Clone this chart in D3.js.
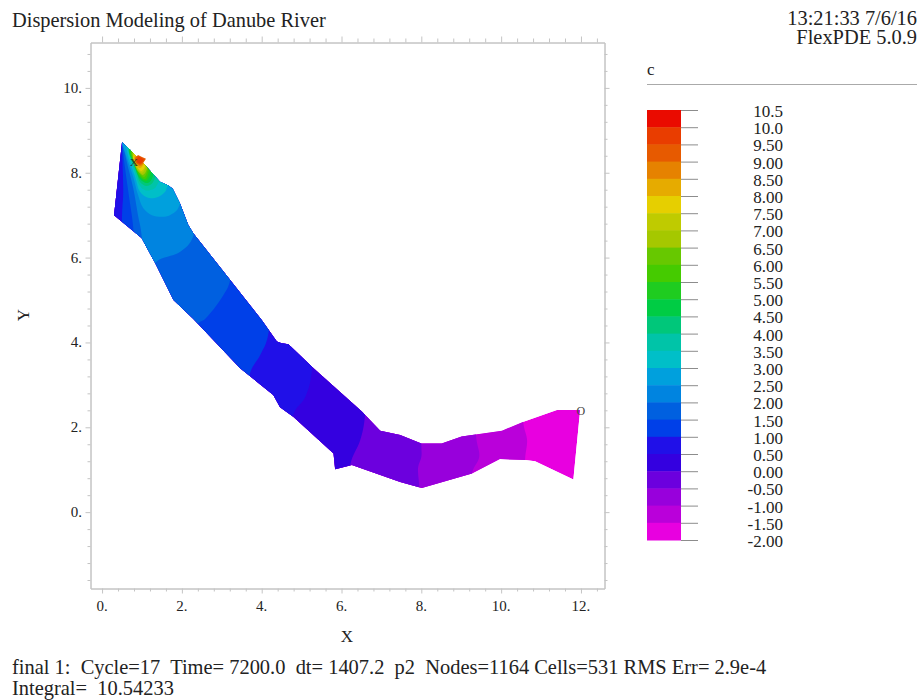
<!DOCTYPE html>
<html>
<head>
<meta charset="utf-8">
<script src="https://cdn.jsdelivr.net/npm/d3@7"></script>
<style>
  body { margin: 0; background: #fff; }
  svg { display: block; }
  text { font-family: "Liberation Serif", serif; fill: #222; white-space: pre; }
  .axis path, .axis line { stroke: #c4c4c4; }
  .legend-axis line { stroke: #8c8c8c; }
  .legend-axis path { display: none; }
</style>
</head>
<body>
<div id="chart"></div>
<script>
const xMajor = [0, 2, 4, 6, 8, 10, 12];
const yMajor = [0, 2, 4, 6, 8, 10];
const xMinor = [0.4, 0.8, 1.2, 1.6, 2.4, 2.8, 3.2, 3.6, 4.4, 4.8, 5.2, 5.6, 6.4, 6.8, 7.2, 7.6, 8.4, 8.8, 9.2, 9.6, 10.4, 10.8, 11.2, 11.6, 12.4];
const yMinor = [-1.6, -1.2, -0.8, -0.4, 0.4, 0.8, 1.2, 1.6, 2.4, 2.8, 3.2, 3.6, 4.4, 4.8, 5.2, 5.6, 6.4, 6.8, 7.2, 7.6, 8.4, 8.8, 9.2, 9.6, 10.4, 10.8];

// legend, top to bottom
const legendLabels = ["10.5", "10.0", "9.50", "9.00", "8.50", "8.00", "7.50", "7.00", "6.50", "6.00", "5.50", "5.00", "4.50", "4.00", "3.50", "3.00", "2.50", "2.00", "1.50", "1.00", "0.50", "0.00", "-0.50", "-1.00", "-1.50", "-2.00"];
const bandColors = ["#ea0b00", "#e93d00", "#e75a00", "#e68200", "#e6ab00", "#e6cf00", "#bfcb00", "#a5c800", "#67c800", "#45cb00", "#1fcc20", "#00cc44", "#00c77a", "#00c4a8", "#00bfc8", "#00a0dd", "#0084e0", "#0060e0", "#0040e8", "#2010e8", "#3400e0", "#6c00de", "#9800dc", "#ba00da", "#e800e0"];

// river outline, in X/Y units
const riverBank = [[0.50, 8.72], [0.70, 8.54], [1.04, 8.22], [1.45, 7.79], [1.66, 7.70], [1.77, 7.62], [1.95, 7.28], [2.16, 6.77], [2.29, 6.57], [3.21, 5.47], [4.00, 4.53], [4.38, 4.02], [4.50, 3.98], [4.67, 3.96], [5.30, 3.39], [6.51, 2.37], [6.97, 1.92], [7.47, 1.82], [8.00, 1.62], [8.51, 1.62], [9.01, 1.78], [10.02, 1.92], [10.56, 2.13], [11.40, 2.41], [11.98, 2.41], [11.81, 0.77], [10.85, 1.20], [10.60, 1.23], [9.97, 1.25], [9.27, 0.91], [8.01, 0.57], [7.47, 0.71], [6.26, 1.11], [5.84, 1.01], [5.80, 1.38], [4.79, 2.25], [4.46, 2.47], [4.29, 2.76], [3.46, 3.39], [2.29, 4.55], [1.79, 5.00], [1.33, 5.87], [0.99, 6.46], [0.30, 7.00]];

// regions where c is above each level, drawn low to high
const levels = [-1.5, -1, -0.5, 0, 0.5, 1, 1.5, 2, 2.5, 3, 3.5, 4, 4.5, 5, 5.5, 6, 6.5, 7, 7.5, 8, 8.5];
const regions = [
  [[10.55, 2.15], [10.65, 1.70], [10.60, 1.23], [10.60, -1], [0, -1], [0, 10], [10.55, 10]],
  [[9.37, 1.82], [9.45, 1.30], [9.27, 0.92], [9.27, -1], [0, -1], [0, 10], [9.37, 10]],
  [[8.00, 1.63], [8.00, 1.30], [7.92, 1.06], [7.95, 0.57], [7.95, -1], [0, -1], [0, 10], [8.00, 10]],
  [[6.59, 2.29], [6.47, 1.70], [6.22, 1.11], [6.22, -1], [0, -1], [0, 10], [6.59, 10]],
  [[5.26, 3.35], [5.09, 2.71], [4.79, 2.29], [4.79, -1], [0, -1], [0, 10], [5.26, 10]],
  [[4.16, 4.17], [3.96, 3.70], [3.71, 3.28], [3.71, 1.93], [0.50, 1.93], [0.50, 6.96], [0.53, 7.55], [0.50, 8.66], [0.50, 9.01], [4.16, 9.01]],
  [[3.21, 5.47], [3.01, 5.07], [2.58, 4.55], [2.38, 4.41], [2.38, 1.93], [0.78, 1.93], [0.78, 6.42], [0.78, 6.72], [0.68, 7.41], [0.55, 8.30], [0.50, 8.77], [0.50, 9.01], [3.21, 9.01]],
  [[2.28, 6.49], [1.95, 6.13], [1.33, 5.87], [1.33, 5.00], [0.99, 5.00], [0.99, 6.53], [0.90, 7.00], [0.78, 7.64], [0.58, 8.42], [0.50, 8.89], [2.28, 8.89]],
  [[1.98, 7.29], [1.88, 7.12], [1.70, 7.00], [1.50, 6.96], [1.25, 7.00], [1.03, 7.17], [0.90, 7.48], [0.78, 7.90], [0.58, 8.47], [0.50, 8.77], [0.50, 9.01], [2.08, 9.01], [2.08, 7.29]],
  [[1.65, 7.69], [1.58, 7.55], [1.40, 7.43], [1.15, 7.41], [0.95, 7.55], [0.83, 7.90], [0.63, 8.47], [0.58, 8.84], [0.53, 9.01], [1.83, 9.01], [1.83, 7.69]],
  [[1.45, 7.81], [1.33, 7.64], [1.20, 7.59], [1.08, 7.59], [0.95, 7.69], [0.80, 8.07], [0.65, 8.54], [0.58, 8.80], [1.58, 9.01], [1.58, 7.81]],
  [[1.33, 7.90], [1.22, 7.72], [1.10, 7.69], [0.95, 7.78], [0.83, 8.18], [0.68, 8.58], [1.33, 9.01]],
  [[1.28, 7.95], [1.20, 7.79], [1.10, 7.76], [0.95, 7.85], [0.80, 8.18], [0.68, 8.58], [1.28, 9.01]],
  [[1.23, 8.02], [1.10, 7.81], [0.95, 7.90], [0.80, 8.23], [0.70, 8.58], [1.23, 8.89]],
  [[1.18, 8.07], [1.08, 7.85], [0.93, 7.95], [0.79, 8.28], [0.73, 8.54], [1.18, 8.89]],
  [[1.15, 8.09], [1.05, 7.90], [0.93, 8.00], [0.78, 8.30], [0.75, 8.54], [1.15, 8.77]],
  [[1.13, 8.11], [1.03, 7.95], [0.90, 8.04], [0.78, 8.33], [0.78, 8.54], [1.13, 8.66]],
  [[1.10, 8.14], [1.00, 8.00], [0.90, 8.09], [0.78, 8.35], [0.80, 8.49], [1.10, 8.58]],
  [[1.08, 8.16], [0.98, 8.04], [0.88, 8.14], [0.78, 8.35], [0.85, 8.49], [1.08, 8.50]],
  [[1.05, 8.23], [0.95, 8.11], [0.85, 8.18], [0.80, 8.35], [0.90, 8.49]],
  [[1.05, 8.25], [0.95, 8.16], [0.85, 8.23], [0.83, 8.35], [0.95, 8.49]]
];

// hot spot at the source, sticks out past the bank
const hotLevels = [9, 9.5];
const hotRegions = [
  [[0.83, 8.35], [0.90, 8.42], [1.00, 8.37], [1.10, 8.33], [1.03, 8.23], [0.95, 8.18], [0.85, 8.23]],
  [[0.87, 8.33], [0.92, 8.38], [1.00, 8.34], [1.05, 8.31], [1.00, 8.25], [0.95, 8.21], [0.88, 8.25]]
];

const maxMark = [0.80, 8.15];
const minMark = [12.0, 2.28];

class RiverPlot {

  constructor(parentElement) {
    this.parentElement = parentElement;
    this.initVis();
  }

  initVis() {
    let vis = this;

    vis.svg = d3.select("#" + vis.parentElement)
      .append("svg")
      .attr("width", 917)
      .attr("height", 700);

    vis.x = d3.scaleLinear().domain([-0.29, 12.59]).range([90.5, 604.5]);
    vis.y = d3.scaleLinear().domain([-1.8, 11.07]).range([588.5, 42.5]);
    vis.legendY = d3.scaleLinear().domain([-2, 10.5]).range([540, 110]);

    vis.drawAxes();
    vis.drawRiver();
    vis.drawLegend();
    vis.drawText();
  }

  drawAxes() {
    let vis = this;

    const axisGroup = (axis, dx, dy) => vis.svg.append("g")
      .attr("class", "axis")
      .attr("transform", "translate(" + dx + "," + dy + ")")
      .call(axis);

    // frame plus short minor ticks on all four sides, then the longer major ones
    const makeAxes = (xVals, yVals, size) => {
      axisGroup(d3.axisBottom(vis.x).tickValues(xVals).tickSize(size).tickSizeOuter(0).tickFormat(""), 0, 588.5);
      axisGroup(d3.axisTop(vis.x).tickValues(xVals).tickSize(size + 1).tickSizeOuter(0).tickFormat(""), 0, 42.5);
      axisGroup(d3.axisLeft(vis.y).tickValues(yVals).tickSize(size).tickSizeOuter(0).tickFormat(""), 90.5, 0);
      axisGroup(d3.axisRight(vis.y).tickValues(yVals).tickSize(size).tickSizeOuter(0).tickFormat(""), 604.5, 0);
    };
    makeAxes(xMinor, yMinor, 3);
    makeAxes(xMajor, yMajor, 5);

    vis.svg.selectAll(".x-label")
      .data(xMajor)
      .enter()
      .append("text")
      .attr("class", "x-label")
      .attr("x", d => vis.x(d))
      .attr("y", 611)
      .attr("text-anchor", "middle")
      .attr("font-size", 15)
      .text(d => d + ".");

    vis.svg.selectAll(".y-label")
      .data(yMajor)
      .enter()
      .append("text")
      .attr("class", "y-label")
      .attr("x", 82)
      .attr("y", d => vis.y(d) + 5)
      .attr("text-anchor", "end")
      .attr("font-size", 15)
      .text(d => d + ".");

    vis.svg.append("text")
      .attr("x", 347)
      .attr("y", 642)
      .attr("text-anchor", "middle")
      .attr("font-size", 17)
      .text("X");

    vis.svg.append("text")
      .attr("transform", "translate(29,315) rotate(-90)")
      .attr("text-anchor", "middle")
      .attr("font-size", 17)
      .text("Y");
  }

  drawRiver() {
    let vis = this;

    const line = d3.line()
      .x(d => vis.x(d[0]))
      .y(d => vis.y(d[1]))
      .curve(d3.curveLinearClosed);

    // contours are round in the picture, the bank is not
    const smooth = d3.line()
      .x(d => vis.x(d[0]))
      .y(d => vis.y(d[1]))
      .curve(d3.curveCatmullRomClosed.alpha(0.5));

    vis.svg.append("clipPath")
      .attr("id", "river-clip")
      .append("path")
      .attr("d", line(riverBank));

    const river = vis.svg.append("g").attr("clip-path", "url(#river-clip)");

    // lowest band covers the whole river, every region on top of it
    river.append("path")
      .attr("d", line(riverBank))
      .attr("fill", bandColors[bandColors.length - 1]);

    // band index for the part above a level
    const colorAbove = level => bandColors[legendLabels.findIndex(l => +l === level) - 1];

    river.selectAll(".region")
      .data(regions)
      .enter()
      .append("path")
      .attr("class", "region")
      .attr("d", d => smooth(d))
      .attr("fill", (d, i) => colorAbove(levels[i]));

    vis.svg.selectAll(".hot")
      .data(hotRegions)
      .enter()
      .append("path")
      .attr("class", "hot")
      .attr("d", d => line(d))
      .attr("fill", (d, i) => colorAbove(hotLevels[i]));

    vis.svg.append("text")
      .attr("x", vis.x(maxMark[0]))
      .attr("y", vis.y(maxMark[1]))
      .attr("text-anchor", "middle")
      .attr("font-size", 11)
      .style("fill", "#333")
      .text("X");

    vis.svg.append("text")
      .attr("x", vis.x(minMark[0]))
      .attr("y", vis.y(minMark[1]))
      .attr("text-anchor", "middle")
      .attr("font-size", 12)
      .style("fill", "#444")
      .text("O");
  }

  drawLegend() {
    let vis = this;

    vis.svg.append("text")
      .attr("x", 647)
      .attr("y", 75)
      .attr("font-size", 17)
      .text("c");

    vis.svg.append("line")
      .attr("x1", 647)
      .attr("x2", 917)
      .attr("y1", 84.5)
      .attr("y2", 84.5)
      .attr("stroke", "#aaa");

    vis.svg.selectAll(".band")
      .data(bandColors)
      .enter()
      .append("rect")
      .attr("class", "band")
      .attr("x", 647)
      .attr("y", (d, i) => vis.legendY(+legendLabels[i]))
      .attr("width", 34)
      .attr("height", (d, i) => vis.legendY(+legendLabels[i + 1]) - vis.legendY(+legendLabels[i]) + 0.5)
      .attr("fill", d => d);

    vis.svg.append("g")
      .attr("class", "legend-axis")
      .attr("transform", "translate(681,0)")
      .call(d3.axisRight(vis.legendY).tickValues(legendLabels.map(Number)).tickSize(17).tickFormat(""));

    vis.svg.selectAll(".legend-label")
      .data(legendLabels)
      .enter()
      .append("text")
      .attr("class", "legend-label")
      .attr("x", 783)
      .attr("y", d => vis.legendY(+d) + 7)
      .attr("text-anchor", "end")
      .attr("font-size", 17)
      .text(d => d);
  }

  drawText() {
    let vis = this;

    vis.svg.append("text").attr("x", 12).attr("y", 27).attr("font-size", 20.4).text("Dispersion Modeling of Danube River");
    vis.svg.append("text").attr("x", 917).attr("y", 25).attr("text-anchor", "end").attr("font-size", 20.4).text("13:21:33 7/6/16");
    vis.svg.append("text").attr("x", 917).attr("y", 44).attr("text-anchor", "end").attr("font-size", 20.4).text("FlexPDE 5.0.9");
    vis.svg.append("text").attr("x", 12).attr("y", 674).attr("font-size", 20.45).text("final 1:  Cycle=17  Time= 7200.0  dt= 1407.2  p2  Nodes=1164 Cells=531 RMS Err= 2.9e-4");
    vis.svg.append("text").attr("x", 12).attr("y", 695).attr("font-size", 20.45).text("Integral=  10.54233");
  }
}

new RiverPlot("chart");
</script>
</body>
</html>
